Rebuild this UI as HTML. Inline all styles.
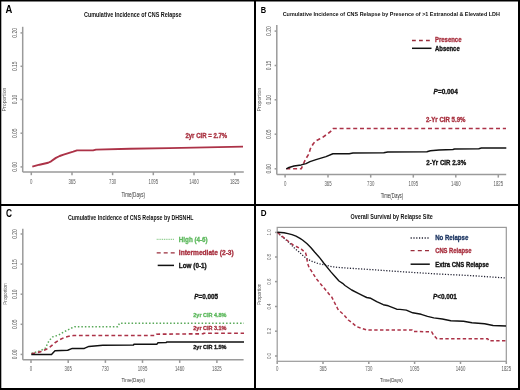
<!DOCTYPE html>
<html><head><meta charset="utf-8"><style>
html,body{margin:0;padding:0;background:#fff;}
body{width:520px;height:390px;overflow:hidden;}
svg{display:block;font-family:"Liberation Sans", sans-serif;will-change:transform;filter:blur(0.35px);}
</style></head><body>
<svg width="520" height="390" viewBox="0 0 520 390">
<text x="9.0" y="12.8" font-size="10.0" text-anchor="middle" fill="#000" font-weight="bold" textLength="6.8" lengthAdjust="spacingAndGlyphs" >A</text>
<text x="132.8" y="17" font-size="7" text-anchor="middle" fill="#111" font-weight="bold" textLength="97.6" lengthAdjust="spacingAndGlyphs" >Cumulative Incidence of CNS Relapse</text>
<line x1="22.7" y1="26.8" x2="22.7" y2="172.0" stroke="#9a9a9a" stroke-width="1.5"/>
<line x1="22.7" y1="172.0" x2="243.8" y2="172.0" stroke="#9a9a9a" stroke-width="1.5"/>
<line x1="20.5" y1="32.9" x2="22.7" y2="32.9" stroke="#9a9a9a" stroke-width="1.5"/>
<text x="14.6" y="32.9" font-size="6.8" text-anchor="middle" fill="#5a5a5a" textLength="9.6" lengthAdjust="spacingAndGlyphs" transform="rotate(-90 14.6 32.9)" dominant-baseline="central">0.20</text>
<line x1="20.5" y1="66.3" x2="22.7" y2="66.3" stroke="#9a9a9a" stroke-width="1.5"/>
<text x="14.6" y="66.3" font-size="6.8" text-anchor="middle" fill="#5a5a5a" textLength="9.6" lengthAdjust="spacingAndGlyphs" transform="rotate(-90 14.6 66.3)" dominant-baseline="central">0.15</text>
<line x1="20.5" y1="99.5" x2="22.7" y2="99.5" stroke="#9a9a9a" stroke-width="1.5"/>
<text x="14.6" y="99.5" font-size="6.8" text-anchor="middle" fill="#5a5a5a" textLength="9.6" lengthAdjust="spacingAndGlyphs" transform="rotate(-90 14.6 99.5)" dominant-baseline="central">0.10</text>
<line x1="20.5" y1="133.2" x2="22.7" y2="133.2" stroke="#9a9a9a" stroke-width="1.5"/>
<text x="14.6" y="133.2" font-size="6.8" text-anchor="middle" fill="#5a5a5a" textLength="9.6" lengthAdjust="spacingAndGlyphs" transform="rotate(-90 14.6 133.2)" dominant-baseline="central">0.05</text>
<line x1="20.5" y1="166.9" x2="22.7" y2="166.9" stroke="#9a9a9a" stroke-width="1.5"/>
<text x="14.6" y="166.9" font-size="6.8" text-anchor="middle" fill="#5a5a5a" textLength="9.6" lengthAdjust="spacingAndGlyphs" transform="rotate(-90 14.6 166.9)" dominant-baseline="central">0.00</text>
<line x1="31.3" y1="172.0" x2="31.3" y2="175.2" stroke="#9a9a9a" stroke-width="1.5"/>
<text x="31.3" y="181.5" font-size="6.8" text-anchor="middle" fill="#5a5a5a" textLength="2.4" lengthAdjust="spacingAndGlyphs" dominant-baseline="central">0</text>
<line x1="72.0" y1="172.0" x2="72.0" y2="175.2" stroke="#9a9a9a" stroke-width="1.5"/>
<text x="72.0" y="181.5" font-size="6.8" text-anchor="middle" fill="#5a5a5a" textLength="7.2" lengthAdjust="spacingAndGlyphs" dominant-baseline="central">365</text>
<line x1="112.6" y1="172.0" x2="112.6" y2="175.2" stroke="#9a9a9a" stroke-width="1.5"/>
<text x="112.6" y="181.5" font-size="6.8" text-anchor="middle" fill="#5a5a5a" textLength="7.2" lengthAdjust="spacingAndGlyphs" dominant-baseline="central">730</text>
<line x1="153.3" y1="172.0" x2="153.3" y2="175.2" stroke="#9a9a9a" stroke-width="1.5"/>
<text x="153.3" y="181.5" font-size="6.8" text-anchor="middle" fill="#5a5a5a" textLength="9.6" lengthAdjust="spacingAndGlyphs" dominant-baseline="central">1095</text>
<line x1="194.0" y1="172.0" x2="194.0" y2="175.2" stroke="#9a9a9a" stroke-width="1.5"/>
<text x="194.0" y="181.5" font-size="6.8" text-anchor="middle" fill="#5a5a5a" textLength="9.6" lengthAdjust="spacingAndGlyphs" dominant-baseline="central">1460</text>
<line x1="234.7" y1="172.0" x2="234.7" y2="175.2" stroke="#9a9a9a" stroke-width="1.5"/>
<text x="234.7" y="181.5" font-size="6.8" text-anchor="middle" fill="#5a5a5a" textLength="9.6" lengthAdjust="spacingAndGlyphs" dominant-baseline="central">1825</text>
<text x="4.3" y="99.5" font-size="5.5" text-anchor="middle" fill="#5a5a5a" textLength="23.8" lengthAdjust="spacingAndGlyphs" transform="rotate(-90 4.3 99.5)" dominant-baseline="central">Proportion</text>
<text x="133.3" y="197.0" font-size="6.5" text-anchor="middle" fill="#333" textLength="23.5" lengthAdjust="spacingAndGlyphs" >Time(Days)</text>
<polyline points="32.3,166.6 39.5,164.7 48.2,162.75 51.1,161.3 55.9,157.9 59.7,156 63.6,154.6 68.4,153.1 73.2,151.7 77,150.4 93.1,150.4 96,149.6 130,148.8 169,148.1 243,146.6" fill="none" stroke="#ac3247" stroke-width="1.9" stroke-linejoin="round" stroke-linecap="butt"/>
<text x="185.4" y="137.6" font-size="7" text-anchor="start" fill="#a8303f" stroke="#a8303f" stroke-width="0.32" font-weight="bold" textLength="41.8" lengthAdjust="spacingAndGlyphs" >2yr CIR = 2.7%</text>
<text x="263.4" y="12.7" font-size="9.6" text-anchor="middle" fill="#000" font-weight="bold" textLength="5.4" lengthAdjust="spacingAndGlyphs" >B</text>
<text x="391.3" y="16.2" font-size="6.2" text-anchor="middle" fill="#111" font-weight="bold" textLength="217.2" lengthAdjust="spacingAndGlyphs" >Cumulative Incidence of CNS Relapse by Presence of &gt;1 Extranodal &amp; Elevated LDH</text>
<line x1="276.8" y1="24.9" x2="276.8" y2="174.4" stroke="#9a9a9a" stroke-width="1.5"/>
<line x1="276.8" y1="174.4" x2="506.2" y2="174.4" stroke="#9a9a9a" stroke-width="1.5"/>
<line x1="274.6" y1="31.1" x2="276.8" y2="31.1" stroke="#9a9a9a" stroke-width="1.5"/>
<text x="268.8" y="31.1" font-size="6.8" text-anchor="middle" fill="#5a5a5a" textLength="9.6" lengthAdjust="spacingAndGlyphs" transform="rotate(-90 268.8 31.1)" dominant-baseline="central">0.20</text>
<line x1="274.6" y1="65.5" x2="276.8" y2="65.5" stroke="#9a9a9a" stroke-width="1.5"/>
<text x="268.8" y="65.5" font-size="6.8" text-anchor="middle" fill="#5a5a5a" textLength="9.6" lengthAdjust="spacingAndGlyphs" transform="rotate(-90 268.8 65.5)" dominant-baseline="central">0.15</text>
<line x1="274.6" y1="99.8" x2="276.8" y2="99.8" stroke="#9a9a9a" stroke-width="1.5"/>
<text x="268.8" y="99.8" font-size="6.8" text-anchor="middle" fill="#5a5a5a" textLength="9.6" lengthAdjust="spacingAndGlyphs" transform="rotate(-90 268.8 99.8)" dominant-baseline="central">0.10</text>
<line x1="274.6" y1="134.2" x2="276.8" y2="134.2" stroke="#9a9a9a" stroke-width="1.5"/>
<text x="268.8" y="134.2" font-size="6.8" text-anchor="middle" fill="#5a5a5a" textLength="9.6" lengthAdjust="spacingAndGlyphs" transform="rotate(-90 268.8 134.2)" dominant-baseline="central">0.05</text>
<line x1="274.6" y1="168.8" x2="276.8" y2="168.8" stroke="#9a9a9a" stroke-width="1.5"/>
<text x="268.8" y="168.8" font-size="6.8" text-anchor="middle" fill="#5a5a5a" textLength="9.6" lengthAdjust="spacingAndGlyphs" transform="rotate(-90 268.8 168.8)" dominant-baseline="central">0.00</text>
<line x1="285.1" y1="174.4" x2="285.1" y2="177.6" stroke="#9a9a9a" stroke-width="1.5"/>
<text x="285.1" y="183.4" font-size="6.8" text-anchor="middle" fill="#5a5a5a" textLength="2.4" lengthAdjust="spacingAndGlyphs" dominant-baseline="central">0</text>
<line x1="328.0" y1="174.4" x2="328.0" y2="177.6" stroke="#9a9a9a" stroke-width="1.5"/>
<text x="328.0" y="183.4" font-size="6.8" text-anchor="middle" fill="#5a5a5a" textLength="7.2" lengthAdjust="spacingAndGlyphs" dominant-baseline="central">365</text>
<line x1="370.7" y1="174.4" x2="370.7" y2="177.6" stroke="#9a9a9a" stroke-width="1.5"/>
<text x="370.7" y="183.4" font-size="6.8" text-anchor="middle" fill="#5a5a5a" textLength="7.2" lengthAdjust="spacingAndGlyphs" dominant-baseline="central">730</text>
<line x1="413.3" y1="174.4" x2="413.3" y2="177.6" stroke="#9a9a9a" stroke-width="1.5"/>
<text x="413.3" y="183.4" font-size="6.8" text-anchor="middle" fill="#5a5a5a" textLength="9.6" lengthAdjust="spacingAndGlyphs" dominant-baseline="central">1095</text>
<line x1="455.8" y1="174.4" x2="455.8" y2="177.6" stroke="#9a9a9a" stroke-width="1.5"/>
<text x="455.8" y="183.4" font-size="6.8" text-anchor="middle" fill="#5a5a5a" textLength="9.6" lengthAdjust="spacingAndGlyphs" dominant-baseline="central">1460</text>
<line x1="498.3" y1="174.4" x2="498.3" y2="177.6" stroke="#9a9a9a" stroke-width="1.5"/>
<text x="498.3" y="183.4" font-size="6.8" text-anchor="middle" fill="#5a5a5a" textLength="9.6" lengthAdjust="spacingAndGlyphs" dominant-baseline="central">1825</text>
<text x="258.6" y="99.6" font-size="5.5" text-anchor="middle" fill="#5a5a5a" textLength="23.8" lengthAdjust="spacingAndGlyphs" transform="rotate(-90 258.6 99.6)" dominant-baseline="central">Proportion</text>
<text x="392.0" y="197.6" font-size="6.5" text-anchor="middle" fill="#333" textLength="22.6" lengthAdjust="spacingAndGlyphs" >Time(Days)</text>
<line x1="412" y1="40.5" x2="430.5" y2="40.5" stroke="#9a2e3c" stroke-width="1.4" stroke-dasharray="3.8,3.2"/>
<line x1="412" y1="48.3" x2="431.5" y2="48.3" stroke="#111" stroke-width="1.5"/>
<text x="435" y="42.4" font-size="6.6" text-anchor="start" fill="#a8303f" stroke="#a8303f" stroke-width="0.32" font-weight="bold" textLength="26.5" lengthAdjust="spacingAndGlyphs" >Presence</text>
<text x="435" y="50.8" font-size="6.6" text-anchor="start" fill="#111" stroke="#111" stroke-width="0.32" font-weight="bold" textLength="24.7" lengthAdjust="spacingAndGlyphs" >Absence</text>
<text x="433.6" y="94.1" font-size="7" text-anchor="start" fill="#111" stroke="#111" stroke-width="0.32" font-weight="bold" textLength="24.2" lengthAdjust="spacingAndGlyphs" ><tspan font-style="italic">P</tspan>=0.004</text>
<text x="425.9" y="121.6" font-size="6.6" text-anchor="start" fill="#a8303f" stroke="#a8303f" stroke-width="0.32" font-weight="bold" textLength="39.6" lengthAdjust="spacingAndGlyphs" >2-Yr CIR 5.9%</text>
<text x="426.3" y="164.5" font-size="6.6" text-anchor="start" fill="#111" stroke="#111" stroke-width="0.32" font-weight="bold" textLength="39.8" lengthAdjust="spacingAndGlyphs" >2-Yr CIR 2.3%</text>
<polyline points="286.3,168.8 301.2,168.8 305.4,159.5 308.9,153.8 310.3,148.9 313.1,144 315.3,141.2 319.5,139 322.3,137.6 327.2,134.1 330,132 332.2,129.9 332.9,128.5 506,128.5" fill="none" stroke="#ac3247" stroke-width="1.6" stroke-linejoin="round" stroke-linecap="butt" stroke-dasharray="4,2.8"/>
<polyline points="286.3,168.8 289,167.4 294,166.1 301.2,164.9 306,163.6 310,161.6 316,159.6 326,156.6 332.9,153.8 349.2,153.8 353,153.1 383.8,152.7 387.7,151.9 426.9,151.8 430.4,150.7 439,150 452.9,149.5 454.6,149 478.8,148.7 481.4,148.1 506.3,148.1" fill="none" stroke="#111" stroke-width="1.5" stroke-linejoin="round" stroke-linecap="butt"/>
<text x="8.9" y="216.9" font-size="10.2" text-anchor="middle" fill="#000" font-weight="bold" textLength="6.0" lengthAdjust="spacingAndGlyphs" >C</text>
<text x="130.7" y="220.3" font-size="6.5" text-anchor="middle" fill="#111" font-weight="bold" textLength="125.4" lengthAdjust="spacingAndGlyphs" >Cumulative Incidence of CNS Relapse by DHSNHL</text>
<line x1="22.8" y1="228.8" x2="22.8" y2="359.7" stroke="#9a9a9a" stroke-width="1.5"/>
<line x1="22.8" y1="359.7" x2="243.6" y2="359.7" stroke="#9a9a9a" stroke-width="1.5"/>
<line x1="20.6" y1="234.0" x2="22.8" y2="234.0" stroke="#9a9a9a" stroke-width="1.5"/>
<text x="14.8" y="234.0" font-size="6.8" text-anchor="middle" fill="#5a5a5a" textLength="9.6" lengthAdjust="spacingAndGlyphs" transform="rotate(-90 14.8 234.0)" dominant-baseline="central">0.20</text>
<line x1="20.6" y1="264.1" x2="22.8" y2="264.1" stroke="#9a9a9a" stroke-width="1.5"/>
<text x="14.8" y="264.1" font-size="6.8" text-anchor="middle" fill="#5a5a5a" textLength="9.6" lengthAdjust="spacingAndGlyphs" transform="rotate(-90 14.8 264.1)" dominant-baseline="central">0.15</text>
<line x1="20.6" y1="294.2" x2="22.8" y2="294.2" stroke="#9a9a9a" stroke-width="1.5"/>
<text x="14.8" y="294.2" font-size="6.8" text-anchor="middle" fill="#5a5a5a" textLength="9.6" lengthAdjust="spacingAndGlyphs" transform="rotate(-90 14.8 294.2)" dominant-baseline="central">0.10</text>
<line x1="20.6" y1="324.3" x2="22.8" y2="324.3" stroke="#9a9a9a" stroke-width="1.5"/>
<text x="14.8" y="324.3" font-size="6.8" text-anchor="middle" fill="#5a5a5a" textLength="9.6" lengthAdjust="spacingAndGlyphs" transform="rotate(-90 14.8 324.3)" dominant-baseline="central">0.05</text>
<line x1="20.6" y1="354.4" x2="22.8" y2="354.4" stroke="#9a9a9a" stroke-width="1.5"/>
<text x="14.8" y="354.4" font-size="6.8" text-anchor="middle" fill="#5a5a5a" textLength="9.6" lengthAdjust="spacingAndGlyphs" transform="rotate(-90 14.8 354.4)" dominant-baseline="central">0.00</text>
<line x1="31.0" y1="359.7" x2="31.0" y2="362.9" stroke="#9a9a9a" stroke-width="1.5"/>
<text x="31.0" y="368.3" font-size="6.8" text-anchor="middle" fill="#5a5a5a" textLength="2.4" lengthAdjust="spacingAndGlyphs" dominant-baseline="central">0</text>
<line x1="68.2" y1="359.7" x2="68.2" y2="362.9" stroke="#9a9a9a" stroke-width="1.5"/>
<text x="68.2" y="368.3" font-size="6.8" text-anchor="middle" fill="#5a5a5a" textLength="7.2" lengthAdjust="spacingAndGlyphs" dominant-baseline="central">365</text>
<line x1="105.4" y1="359.7" x2="105.4" y2="362.9" stroke="#9a9a9a" stroke-width="1.5"/>
<text x="105.4" y="368.3" font-size="6.8" text-anchor="middle" fill="#5a5a5a" textLength="7.2" lengthAdjust="spacingAndGlyphs" dominant-baseline="central">730</text>
<line x1="142.5" y1="359.7" x2="142.5" y2="362.9" stroke="#9a9a9a" stroke-width="1.5"/>
<text x="142.5" y="368.3" font-size="6.8" text-anchor="middle" fill="#5a5a5a" textLength="9.6" lengthAdjust="spacingAndGlyphs" dominant-baseline="central">1095</text>
<line x1="179.7" y1="359.7" x2="179.7" y2="362.9" stroke="#9a9a9a" stroke-width="1.5"/>
<text x="179.7" y="368.3" font-size="6.8" text-anchor="middle" fill="#5a5a5a" textLength="9.6" lengthAdjust="spacingAndGlyphs" dominant-baseline="central">1460</text>
<line x1="216.9" y1="359.7" x2="216.9" y2="362.9" stroke="#9a9a9a" stroke-width="1.5"/>
<text x="216.9" y="368.3" font-size="6.8" text-anchor="middle" fill="#5a5a5a" textLength="9.6" lengthAdjust="spacingAndGlyphs" dominant-baseline="central">1825</text>
<text x="4.6" y="294" font-size="5.5" text-anchor="middle" fill="#5a5a5a" textLength="21.6" lengthAdjust="spacingAndGlyphs" transform="rotate(-90 4.6 294)" dominant-baseline="central">Proportion</text>
<text x="133.3" y="381.7" font-size="6.0" text-anchor="middle" fill="#333" textLength="23.6" lengthAdjust="spacingAndGlyphs" >Time(Days)</text>
<line x1="156.7" y1="239.4" x2="174" y2="239.4" stroke="#8ccc8c" stroke-width="1.1" stroke-dasharray="1,0.8"/>
<line x1="156.7" y1="252.9" x2="174.7" y2="252.9" stroke="#9a2e3c" stroke-width="1.4" stroke-dasharray="4,3"/>
<line x1="157.7" y1="265.4" x2="174" y2="265.4" stroke="#111" stroke-width="1.5"/>
<text x="178.8" y="241.6" font-size="7" text-anchor="start" fill="#5cb85c" stroke="#5cb85c" stroke-width="0.32" font-weight="bold" textLength="28.9" lengthAdjust="spacingAndGlyphs" >High (4-6)</text>
<text x="178.8" y="254.8" font-size="7" text-anchor="start" fill="#a8303f" stroke="#a8303f" stroke-width="0.32" font-weight="bold" textLength="54.9" lengthAdjust="spacingAndGlyphs" >Intermediate (2-3)</text>
<text x="178.8" y="267.6" font-size="7" text-anchor="start" fill="#111" stroke="#111" stroke-width="0.32" font-weight="bold" textLength="27.9" lengthAdjust="spacingAndGlyphs" >Low (0-1)</text>
<text x="194.2" y="299.4" font-size="7" text-anchor="start" fill="#111" stroke="#111" stroke-width="0.32" font-weight="bold" textLength="23.9" lengthAdjust="spacingAndGlyphs" ><tspan font-style="italic">P</tspan>=0.005</text>
<text x="193.3" y="317.4" font-size="6.2" text-anchor="start" fill="#5cb85c" stroke="#5cb85c" stroke-width="0.32" font-weight="bold" textLength="33.2" lengthAdjust="spacingAndGlyphs" >2yr CIR 4.8%</text>
<text x="193.3" y="330.2" font-size="6.2" text-anchor="start" fill="#a8303f" stroke="#a8303f" stroke-width="0.32" font-weight="bold" textLength="33.2" lengthAdjust="spacingAndGlyphs" >2yr CIR 3.1%</text>
<text x="193.3" y="348.9" font-size="6.2" text-anchor="start" fill="#111" stroke="#111" stroke-width="0.32" font-weight="bold" textLength="33.2" lengthAdjust="spacingAndGlyphs" >2yr CIR 1.5%</text>
<polyline points="31.5,353.4 40,350.8 45.2,348.4 47.5,343.8 49.2,340.4 52.7,336.9 58.4,335.2 63.1,332.3 67.7,330 72.3,327.7 74.6,326.8 117.8,326.8 119.5,323.2 244,323.2" fill="none" stroke="#58a858" stroke-width="1.5" stroke-linejoin="round" stroke-linecap="butt" stroke-dasharray="1.5,2"/>
<polyline points="31.5,353.8 40,351.9 45.8,349.6 50.4,346.7 55,342.7 59.6,339.8 64.2,337.5 68.8,336.3 73.4,335.5 155.5,335.5 156.5,334.2 180,334 203,333.8 204,333.2 244,333.2" fill="none" stroke="#ac3247" stroke-width="1.6" stroke-linejoin="round" stroke-linecap="butt" stroke-dasharray="3.8,2.7"/>
<polyline points="31.3,354.4 51.5,354.4 55,350.8 67.7,350.2 72.3,348.4 84.3,348.4 88.9,346.4 102.8,345.2 133.5,345 134,344.2 157,344.2 158,342.7 166,342.6 167,341.9 244,341.9" fill="none" stroke="#111" stroke-width="1.5" stroke-linejoin="round" stroke-linecap="butt"/>
<text x="263.6" y="216.3" font-size="9.6" text-anchor="middle" fill="#000" font-weight="bold" textLength="5.8" lengthAdjust="spacingAndGlyphs" >D</text>
<text x="391.6" y="218.7" font-size="6.4" text-anchor="middle" fill="#111" font-weight="bold" textLength="82.2" lengthAdjust="spacingAndGlyphs" >Overall Survival by Relapse Site</text>
<rect x="277.2" y="227.4" width="229.1" height="133.9" fill="none" stroke="#9a9a9a" stroke-width="1.2"/>
<line x1="275.0" y1="232.4" x2="277.2" y2="232.4" stroke="#9a9a9a" stroke-width="1.5"/>
<text x="268.9" y="232.4" font-size="6" text-anchor="middle" fill="#5a5a5a" textLength="6.2" lengthAdjust="spacingAndGlyphs" transform="rotate(-90 268.9 232.4)" dominant-baseline="central">1.0</text>
<line x1="275.0" y1="257.0" x2="277.2" y2="257.0" stroke="#9a9a9a" stroke-width="1.5"/>
<text x="268.9" y="257.0" font-size="6" text-anchor="middle" fill="#5a5a5a" textLength="6.2" lengthAdjust="spacingAndGlyphs" transform="rotate(-90 268.9 257.0)" dominant-baseline="central">0.8</text>
<line x1="275.0" y1="281.6" x2="277.2" y2="281.6" stroke="#9a9a9a" stroke-width="1.5"/>
<text x="268.9" y="281.6" font-size="6" text-anchor="middle" fill="#5a5a5a" textLength="6.2" lengthAdjust="spacingAndGlyphs" transform="rotate(-90 268.9 281.6)" dominant-baseline="central">0.6</text>
<line x1="275.0" y1="306.5" x2="277.2" y2="306.5" stroke="#9a9a9a" stroke-width="1.5"/>
<text x="268.9" y="306.5" font-size="6" text-anchor="middle" fill="#5a5a5a" textLength="6.2" lengthAdjust="spacingAndGlyphs" transform="rotate(-90 268.9 306.5)" dominant-baseline="central">0.4</text>
<line x1="275.0" y1="331.2" x2="277.2" y2="331.2" stroke="#9a9a9a" stroke-width="1.5"/>
<text x="268.9" y="331.2" font-size="6" text-anchor="middle" fill="#5a5a5a" textLength="6.2" lengthAdjust="spacingAndGlyphs" transform="rotate(-90 268.9 331.2)" dominant-baseline="central">0.2</text>
<line x1="275.0" y1="356.0" x2="277.2" y2="356.0" stroke="#9a9a9a" stroke-width="1.5"/>
<text x="268.9" y="356.0" font-size="6" text-anchor="middle" fill="#5a5a5a" textLength="6.2" lengthAdjust="spacingAndGlyphs" transform="rotate(-90 268.9 356.0)" dominant-baseline="central">0.0</text>
<line x1="277.2" y1="361.3" x2="277.2" y2="364" stroke="#9a9a9a" stroke-width="1.5"/>
<text x="277.2" y="368.9" font-size="6.8" text-anchor="middle" fill="#5a5a5a" textLength="2.4" lengthAdjust="spacingAndGlyphs" dominant-baseline="central">0</text>
<line x1="323.0" y1="361.3" x2="323.0" y2="364" stroke="#9a9a9a" stroke-width="1.5"/>
<text x="323.0" y="368.9" font-size="6.8" text-anchor="middle" fill="#5a5a5a" textLength="7.2" lengthAdjust="spacingAndGlyphs" dominant-baseline="central">365</text>
<line x1="368.8" y1="361.3" x2="368.8" y2="364" stroke="#9a9a9a" stroke-width="1.5"/>
<text x="368.8" y="368.9" font-size="6.8" text-anchor="middle" fill="#5a5a5a" textLength="7.2" lengthAdjust="spacingAndGlyphs" dominant-baseline="central">730</text>
<line x1="414.6" y1="361.3" x2="414.6" y2="364" stroke="#9a9a9a" stroke-width="1.5"/>
<text x="414.6" y="368.9" font-size="6.8" text-anchor="middle" fill="#5a5a5a" textLength="9.6" lengthAdjust="spacingAndGlyphs" dominant-baseline="central">1095</text>
<line x1="460.5" y1="361.3" x2="460.5" y2="364" stroke="#9a9a9a" stroke-width="1.5"/>
<text x="460.5" y="368.9" font-size="6.8" text-anchor="middle" fill="#5a5a5a" textLength="9.6" lengthAdjust="spacingAndGlyphs" dominant-baseline="central">1460</text>
<line x1="506.3" y1="361.3" x2="506.3" y2="364" stroke="#9a9a9a" stroke-width="1.5"/>
<text x="506.3" y="368.9" font-size="6.8" text-anchor="middle" fill="#5a5a5a" textLength="9.6" lengthAdjust="spacingAndGlyphs" dominant-baseline="central">1825</text>
<text x="259" y="294.3" font-size="5.5" text-anchor="middle" fill="#5a5a5a" textLength="21.6" lengthAdjust="spacingAndGlyphs" transform="rotate(-90 259 294.3)" dominant-baseline="central">Proportion</text>
<text x="391.4" y="381.7" font-size="6.0" text-anchor="middle" fill="#333" textLength="22.6" lengthAdjust="spacingAndGlyphs" >Time(Days)</text>
<line x1="410.6" y1="238" x2="429.8" y2="238" stroke="#223" stroke-width="1.3" stroke-dasharray="1.2,1.6"/>
<line x1="410.6" y1="250.6" x2="429.8" y2="250.6" stroke="#9a2e3c" stroke-width="1.4" stroke-dasharray="4,3.2"/>
<line x1="410.6" y1="264.2" x2="429.8" y2="264.2" stroke="#111" stroke-width="1.5"/>
<text x="435.2" y="240.4" font-size="7" text-anchor="start" fill="#1f3864" stroke="#1f3864" stroke-width="0.32" font-weight="bold" textLength="33.1" lengthAdjust="spacingAndGlyphs" >No Relapse</text>
<text x="435.2" y="253.0" font-size="7" text-anchor="start" fill="#a8303f" stroke="#a8303f" stroke-width="0.32" font-weight="bold" textLength="36.3" lengthAdjust="spacingAndGlyphs" >CNS Relapse</text>
<text x="435.2" y="266.6" font-size="7" text-anchor="start" fill="#111" stroke="#111" stroke-width="0.32" font-weight="bold" textLength="53.6" lengthAdjust="spacingAndGlyphs" >Extra CNS Relapse</text>
<text x="433.0" y="298.8" font-size="7" text-anchor="start" fill="#111" stroke="#111" stroke-width="0.32" font-weight="bold" textLength="23.9" lengthAdjust="spacingAndGlyphs" ><tspan font-style="italic">P</tspan>&lt;0.001</text>
<polyline points="277.5,232.3 280,234.9 284,238.3 288.6,242.2 294.8,248.5 298.6,251.5 303.2,255.8 307.5,259.2 311.7,261.2 317,263.1 320,263.9 325,265.1 332.7,266.8 340,267.6 372.7,269.7 405.4,272 438,274 470.7,275.6 506,278" fill="none" stroke="#223" stroke-width="1.3" stroke-linejoin="round" stroke-linecap="butt" stroke-dasharray="1.2,1.6"/>
<polyline points="277.5,232.3 280.1,234.9 284.1,237.9 288.6,241.5 293,244.8 296.3,246.5 301.3,249.2 305.5,252.7 306.5,256 307.5,263.1 309.4,268.5 311.2,270.6 316.5,279.1 321.9,285.4 326.4,290.8 330,295.3 331.8,297.1 334.5,302.5 338.3,310 343.3,314.2 348.3,320 351.7,322.5 356.7,326.7 361.7,328.3 366.7,330 412,330 413,331.5 431.7,331.8 433.8,335.5 437,338.7 487.8,338.7 488.8,340.8 506,340.8" fill="none" stroke="#ac3247" stroke-width="1.5" stroke-linejoin="round" stroke-linecap="butt" stroke-dasharray="3.4,2.4"/>
<polyline points="277.5,232.3 284,232.8 288,233.6 292,234.7 296,236.2 300,238.3 302.5,240 307.1,243.8 311,247.7 314.8,252.3 318.6,256.5 320,258.1 323.7,263 330.9,271.9 335,276.5 339,281 342.6,283.3 345,285.5 351.7,290 358.3,293.3 363.3,295.8 366.7,297.5 370.8,298.3 376.7,301.7 383.3,304.7 388.3,305.8 396.7,309.2 400,309.4 406.3,310.1 412.7,312.8 421.2,314.3 427.5,316.4 433.8,317.9 442.3,319 450.8,320.7 463.5,321.3 471.9,322.8 484.6,323.8 493.1,325.5 506,326" fill="none" stroke="#111" stroke-width="1.4" stroke-linejoin="round" stroke-linecap="butt"/>
<rect x="0" y="0" width="520" height="1.5" fill="#000"/>
<rect x="0" y="0" width="1.3" height="390" fill="#000"/>
<rect x="518" y="0" width="2" height="390" fill="#000"/>
<rect x="0" y="388" width="520" height="2" fill="#000"/>
<rect x="254" y="0" width="2" height="390" fill="#000"/>
<rect x="0" y="204" width="520" height="2" fill="#000"/>
</svg>
</body></html>
